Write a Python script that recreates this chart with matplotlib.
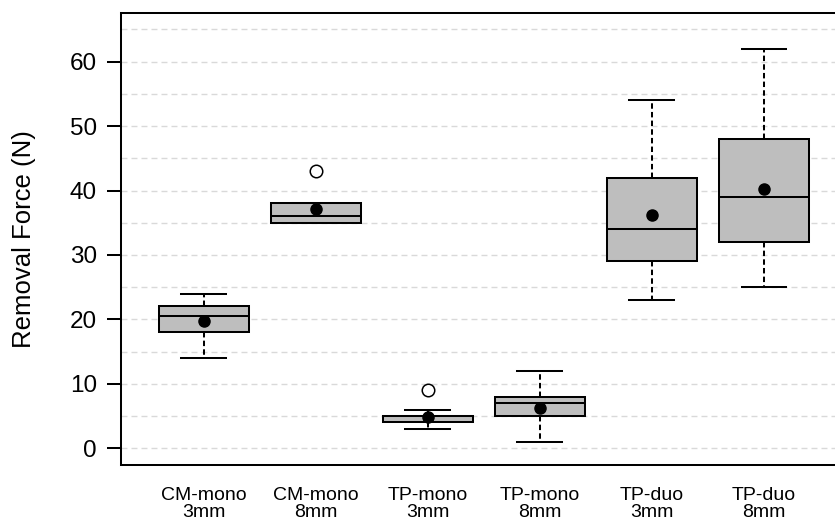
import matplotlib
matplotlib.use("Agg")
import matplotlib.pyplot as plt
from matplotlib.ticker import MultipleLocator

plt.rcParams["font.family"] = ["Liberation Sans", "DejaVu Sans"]

# data
groups = ["CM-mono\n3mm", "CM-mono\n8mm", "TP-mono\n3mm", "TP-mono\n8mm", "TP-duo\n3mm", "TP-duo\n8mm"]
whis_lo = [14, 35, 3, 1, 23, 25]
q1 = [18, 35, 4, 5, 29, 32]
medians = [20.6, 36, 5, 7, 34, 39]
q3 = [22, 38, 5, 8, 42, 48]
whis_hi = [24, 38, 6, 12, 54, 62]
means = [19.8, 37.1, 4.9, 6.3, 36.2, 40.3]
outliers = [[], [43], [9], [], [], []]

stats = []
for i, name in enumerate(groups):
    stats.append({
        "label": name,
        "whislo": whis_lo[i],
        "q1": q1[i],
        "med": medians[i],
        "q3": q3[i],
        "whishi": whis_hi[i],
        "fliers": outliers[i],
    })

fig = plt.figure(figsize=(8.35, 5.2), dpi=100)
ax = fig.add_axes([0.1445, 0.1058, 0.8555, 0.8686])

positions = list(range(1, len(groups) + 1))
lw = 1.45
ax.bxp(
    stats,
    positions=positions,
    widths=0.8,
    patch_artist=True,
    boxprops=dict(facecolor="#bebebe", edgecolor="black", linewidth=lw),
    medianprops=dict(color="black", linewidth=lw),
    whiskerprops=dict(color="black", linewidth=lw, linestyle=(0, (2.7, 1.6))),
    capprops=dict(color="black", linewidth=lw),
    capwidths=0.4,
    flierprops=dict(marker="o", markerfacecolor="white", markeredgecolor="black",
                    markersize=9, markeredgewidth=1.1),
    zorder=3,
)
ax.plot(positions, means, "o", color="black", markersize=8, zorder=4, linestyle="none")

ax.set_xlim(0.259, 0.259 + 714 / 112)
ax.set_ylim(-2.6, 67.5)
ax.yaxis.set_major_locator(MultipleLocator(10))
ax.yaxis.set_minor_locator(MultipleLocator(5))
ax.grid(axis="y", which="both", color="#d9d9d9", linewidth=1.0, linestyle=(0, (4.3, 2.9)), zorder=0)
ax.set_axisbelow(True)

ax.tick_params(axis="y", which="major", length=10, width=lw, pad=7, labelsize=17.5)
ax.tick_params(axis="y", which="minor", length=0)
ax.tick_params(axis="x", length=0, pad=16, labelsize=14)
for lab in ax.get_xticklabels():
    lab.set_linespacing(1.0)

ax.set_ylabel("Removal Force (N)", fontsize=18.5)
ax.yaxis.set_label_coords(-0.119, 0.5)

for side in ["left", "bottom", "top"]:
    ax.spines[side].set_linewidth(lw)
ax.spines["right"].set_visible(False)

fig.savefig("out.png", dpi=100)
